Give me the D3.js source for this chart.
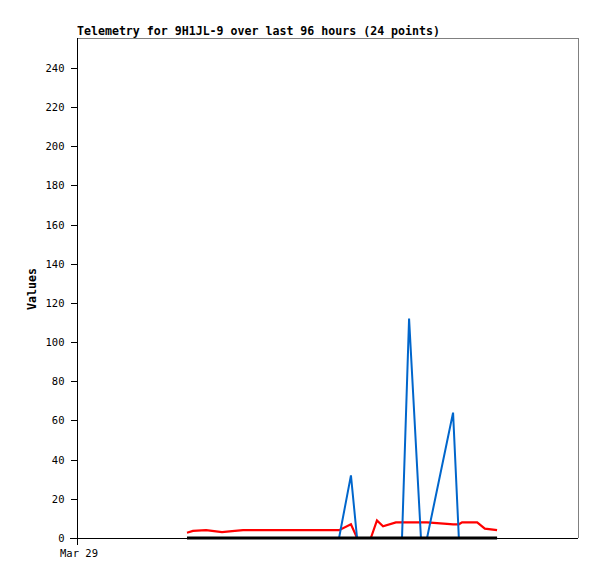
<!DOCTYPE html>
<html>
<head>
<meta charset="utf-8">
<script src="https://cdn.jsdelivr.net/npm/d3@7"></script>
<style>
  html, body { margin: 0; padding: 0; background: #fff; }
  svg { display: block; }
</style>
</head>
<body>
<svg id="chart" width="597" height="579"></svg>
<script>
const title = "Telemetry for 9H1JL-9 over last 96 hours (24 points)";
const yLabel = "Values";
const xTickLabels = ["Mar 29"];
const yTicks = [0, 20, 40, 60, 80, 100, 120, 140, 160, 180, 200, 220, 240];

const times = [
  "2024-03-30T10:15", "2024-03-30T12:06", "2024-03-30T16:12", "2024-03-30T21:09",
  "2024-03-31T00:18", "2024-03-31T03:42", "2024-04-01T09:36", "2024-04-01T13:18",
  "2024-04-01T15:12", "2024-04-01T19:30", "2024-04-01T21:24", "2024-04-01T23:18",
  "2024-04-02T03:18", "2024-04-02T05:12", "2024-04-02T07:24", "2024-04-02T11:06",
  "2024-04-02T13:00", "2024-04-02T19:12", "2024-04-02T21:06", "2024-04-02T22:54",
  "2024-04-02T23:54", "2024-04-03T04:36", "2024-04-03T07:00", "2024-04-03T10:48"
];
const redValues = [2.7, 3.6, 4, 3, 3.5, 4, 4, 7, 0, 0, 9, 6,
                   8, 8, 8, 8, 8, 7.2, 7, 7, 8, 8, 4.8, 4];
const blueValues = [0, 0, 0, 0, 0, 0, 0, 32, 0, 0, 0, 0,
                    0, 0, 112, 0, 0, 49, 64, 0, 0, 0, 0, 0];
const blackValues = [0, 0, 0, 0, 0, 0, 0, 0, 0, 0, 0, 0,
                     0, 0, 0, 0, 0, 0, 0, 0, 0, 0, 0, 0];

(function () {
const parse = d3.timeParse("%Y-%m-%dT%H:%M");
const dates = times.map(parse);

const pl = 77, pr = 578, pt = 38, pb = 538;
const svg = d3.select("#chart");

const x = d3.scaleTime()
  .domain([parse("2024-03-29T00:00"), parse("2024-04-04T12:00")])
  .range([pl, pr]);
const y = d3.scaleLinear().domain([0, 255.3]).range([pb, pt]);

// frame (top / right grey)
svg.append("line").attr("x1", pl).attr("x2", pr + 0.5).attr("y1", pt + 0.5).attr("y2", pt + 0.5)
  .attr("stroke", "#808080").attr("stroke-width", 1).attr("shape-rendering", "crispEdges");
svg.append("line").attr("x1", pr + 0.5).attr("x2", pr + 0.5).attr("y1", pt).attr("y2", pb)
  .attr("stroke", "#808080").attr("stroke-width", 1).attr("shape-rendering", "crispEdges");

// y axis
const yAxis = d3.axisLeft(y).tickValues(yTicks).tickSize(7).tickPadding(6).tickSizeOuter(0);
const gy = svg.append("g").attr("transform", `translate(${pl + 0.5},0)`).call(yAxis);
gy.select(".domain").attr("stroke", "#000").attr("shape-rendering", "crispEdges")
  .attr("d", `M0,${pt}V${pb + 7}`);
gy.selectAll(".tick line").attr("stroke", "#000").attr("shape-rendering", "crispEdges");
gy.selectAll(".tick text").attr("font-family", "DejaVu Sans Mono, monospace")
  .attr("font-size", "10.5px").attr("fill", "#000");

// x axis
const xAxis = d3.axisBottom(x).tickValues([parse("2024-03-29T00:00")])
  .tickFormat((d, i) => xTickLabels[i]).tickSize(0).tickPadding(11).tickSizeOuter(0);
const gx = svg.append("g").attr("transform", `translate(0,${pb + 0.5})`).call(xAxis);
gx.select(".domain").attr("stroke", "#000").attr("shape-rendering", "crispEdges")
  .attr("d", `M${pl - 7},0H${pr}`);
gx.selectAll(".tick text").attr("font-family", "DejaVu Sans Mono, monospace")
  .attr("font-size", "10.5px").attr("fill", "#000").attr("dx", "1.5");

// series
const line = vals => d3.line().x((d, i) => x(dates[i])).y(d => y(d))(vals);
svg.append("path").attr("d", line(redValues)).attr("fill", "none")
  .attr("stroke", "#ff0000").attr("stroke-width", 2.2).attr("stroke-linejoin", "miter");
svg.append("path").attr("d", line(blueValues)).attr("fill", "none")
  .attr("stroke", "#0066cc").attr("stroke-width", 2).attr("stroke-linejoin", "miter");
svg.append("path").attr("d", line(blackValues)).attr("fill", "none")
  .attr("stroke", "#000").attr("stroke-width", 3);

// title
svg.append("text").attr("x", pl).attr("y", 35).text(title)
  .attr("font-family", "DejaVu Sans Mono, monospace").attr("font-weight", "bold")
  .attr("font-size", "11.6px").attr("fill", "#000");

// y label
svg.append("text").attr("transform", `translate(36,289) rotate(-90)`)
  .attr("text-anchor", "middle").text(yLabel)
  .attr("font-family", "DejaVu Sans Mono, monospace").attr("font-weight", "bold")
  .attr("font-size", "11.6px").attr("fill", "#000");
})();
</script>
</body>
</html>
